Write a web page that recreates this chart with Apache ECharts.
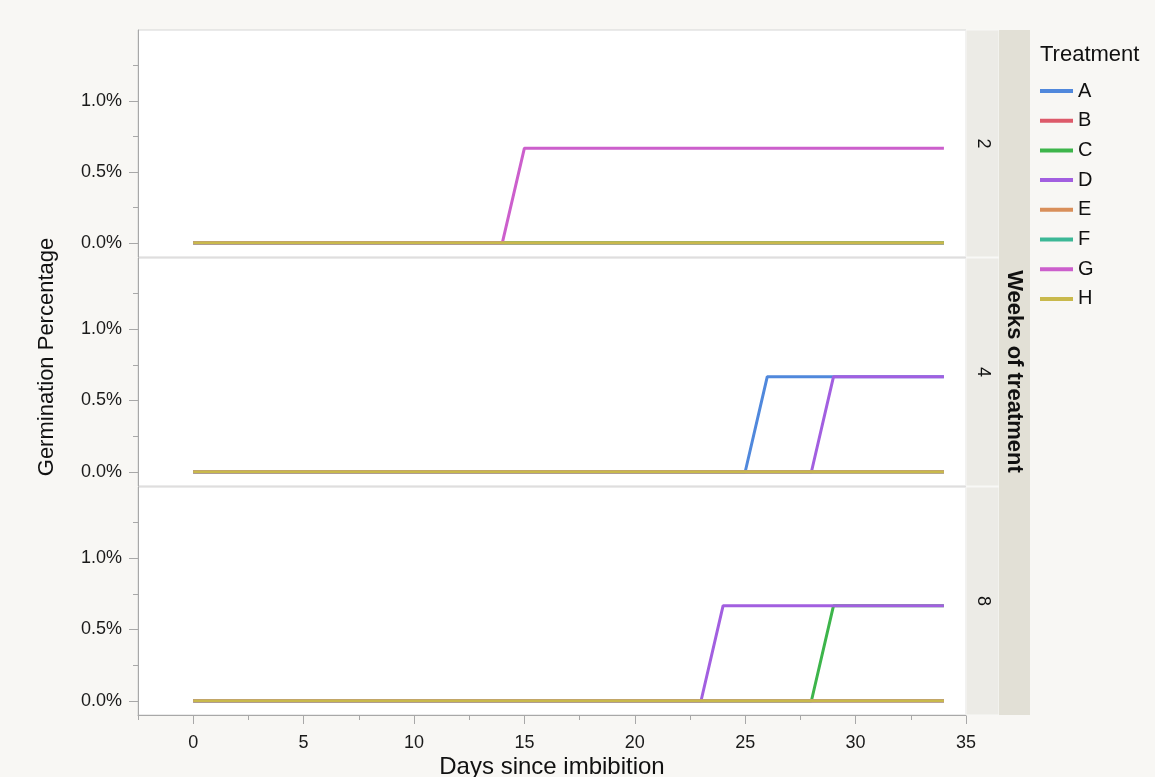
<!DOCTYPE html>
<html>
<head>
<meta charset="utf-8">
<script src="https://cdn.jsdelivr.net/npm/echarts@6/dist/echarts.min.js"></script>
<style>
  html, body { margin: 0; padding: 0; background: #f8f7f4; }
  #chart { width: 1155px; height: 777px; }
</style>
</head>
<body>
<div id="chart"></div>
<script>
// ---- Data ----
const treatments = ['A', 'B', 'C', 'D', 'E', 'F', 'G', 'H'];
const colors = ['#5088dc', '#dd5a6a', '#3db54b', '#a25fe0', '#d98f5a', '#3cb896', '#cc5fcc', '#c9b94c'];
const weeks = ['2', '4', '8'];
const xTicks = [0, 5, 10, 15, 20, 25, 30, 35];
const xMinorTicks = [-2.5, 2.5, 7.5, 12.5, 17.5, 22.5, 27.5, 32.5];
const yTicks = [0, 0.5, 1.0];
const yMinorTicks = [0.25, 0.75, 1.25];

// Germination percentage (%) at day breakpoints, [day, percent]
const flat = [[0, 0], [34, 0]];
const wk2G = [[0, 0], [14, 0], [15, 0.667], [34, 0.667]];
const wk4A = [[0, 0], [25, 0], [26, 0.667], [34, 0.667]];
const wk4D = [[0, 0], [28, 0], [29, 0.667], [34, 0.667]];
const wk8C = [[0, 0], [28, 0], [29, 0.667], [34, 0.667]];
const wk8D = [[0, 0], [23, 0], [24, 0.667], [34, 0.667]];

const panels = [
  { A: flat, B: flat, C: flat, D: flat, E: flat, F: flat, G: wk2G, H: flat },
  { A: wk4A, B: flat, C: flat, D: wk4D, E: flat, F: flat, G: flat, H: flat },
  { A: flat, B: flat, C: wk8C, D: wk8D, E: flat, F: flat, G: flat, H: flat }
];

// ---- Layout ----
const L = 138, W = 828;
const gridTops = [30, 258, 487];
const gridHeights = [227, 228, 228];
const axisColor = '#a8a8a8';
const font = '"Liberation Sans", Arial, Helvetica, sans-serif';

const grids = gridTops.map((t, i) => ({
  left: L, top: t, width: W, height: gridHeights[i],
  outerBoundsMode: 'none', containLabel: false,
  show: true, backgroundColor: '#ffffff', borderColor: '#d6d6d6', borderWidth: 1
}));

const xAxes = [];
const yAxes = [];
gridTops.forEach((t, i) => {
  const isBottom = i === 2;
  xAxes.push({
    type: 'value', gridIndex: i, min: -2.5, max: 35, position: 'bottom',
    show: isBottom,
    axisLine: { show: isBottom, onZero: false, lineStyle: { color: axisColor } },
    axisTick: { show: isBottom, customValues: xTicks, length: 9, lineStyle: { color: axisColor } },
    axisLabel: { show: isBottom, customValues: xTicks, color: '#1a1a1a', fontSize: 18, fontFamily: font, margin: 19 },
    splitLine: { show: false },
    name: isBottom ? 'Days since imbibition' : '',
    nameLocation: 'middle', nameGap: 40, nameMoveOverlap: false,
    nameTextStyle: { color: '#111', fontSize: 24, fontFamily: font }
  });
  yAxes.push({
    type: 'value', gridIndex: i, min: -0.1, max: 1.5, position: 'left',
    axisLine: { show: true, onZero: false, lineStyle: { color: axisColor } },
    axisTick: { show: true, customValues: yTicks, length: 9, lineStyle: { color: axisColor } },
    axisLabel: {
      show: true, customValues: yTicks, color: '#1a1a1a', fontSize: 18, fontFamily: font, margin: 16,
      formatter: v => v.toFixed(1) + '%'
    },
    splitLine: { show: false }
  });
  yAxes.push({
    type: 'value', gridIndex: i, min: -0.1, max: 1.5, position: 'left',
    axisLine: { show: false, onZero: false },
    axisTick: { show: true, customValues: yMinorTicks, length: 5, lineStyle: { color: axisColor } },
    axisLabel: { show: false },
    splitLine: { show: false }
  });
});
// minor x ticks on bottom panel
xAxes.push({
  type: 'value', gridIndex: 2, min: -2.5, max: 35, position: 'bottom',
  axisLine: { show: false, onZero: false },
  axisTick: { show: true, customValues: xMinorTicks, length: 5, lineStyle: { color: axisColor } },
  axisLabel: { show: false },
  splitLine: { show: false }
});

const series = [];
panels.forEach((p, i) => {
  treatments.forEach((t, k) => {
    series.push({
      name: t, type: 'line', xAxisIndex: i, yAxisIndex: 2 * i,
      data: p[t], showSymbol: false, symbol: 'none',
      lineStyle: { width: 3, color: colors[k] }, itemStyle: { color: colors[k] },
      animation: false
    });
  });
});

// strips
const graphics = [];
gridTops.forEach((t, i) => {
  graphics.push({
    type: 'rect', shape: { x: L + W, y: t, width: 33, height: gridHeights[i] },
    style: { fill: '#ecebe6', stroke: '#f8f8f6', lineWidth: 1 }, z: 10
  });
  graphics.push({
    type: 'text', x: L + W + 16.5, y: t + gridHeights[i] / 2, rotation: -Math.PI / 2,
    style: { text: weeks[i], font: '18px ' + font, fill: '#111', align: 'center', verticalAlign: 'middle' }, z: 11
  });
});
graphics.push({
  type: 'rect', shape: { x: L + W + 33, y: 30, width: 31, height: 685 },
  style: { fill: '#e2e0d6' }, z: 10
});
graphics.push({
  type: 'text', x: L + W + 33 + 15.5, y: 371.5, rotation: -Math.PI / 2,
  style: { text: 'Weeks of treatment', font: 'bold 22px ' + font, fill: '#111', align: 'center', verticalAlign: 'middle' }, z: 11
});
graphics.push({
  type: 'text', x: 47, y: 357, rotation: Math.PI / 2,
  style: { text: 'Germination Percentage', font: '22px ' + font, fill: '#111', align: 'center', verticalAlign: 'middle' }, z: 11
});
graphics.push({
  type: 'text', x: 1040, y: 55,
  style: { text: 'Treatment', font: '22px ' + font, fill: '#111', align: 'left', verticalAlign: 'middle' }, z: 11
});

const chart = echarts.init(document.getElementById('chart'), null, { renderer: 'canvas' });
chart.setOption({
  backgroundColor: '#f8f7f4',
  animation: false,
  grid: grids,
  xAxis: xAxes,
  yAxis: yAxes,
  legend: {
    orient: 'vertical', left: 1035, top: 75,
    data: treatments, icon: 'rect', itemWidth: 33, itemHeight: 4, itemGap: 7.7,
    textStyle: { fontSize: 20, color: '#111', fontFamily: font, lineHeight: 22 },
    selectedMode: false
  },
  graphic: graphics,
  series: series
});
</script>
</body>
</html>
